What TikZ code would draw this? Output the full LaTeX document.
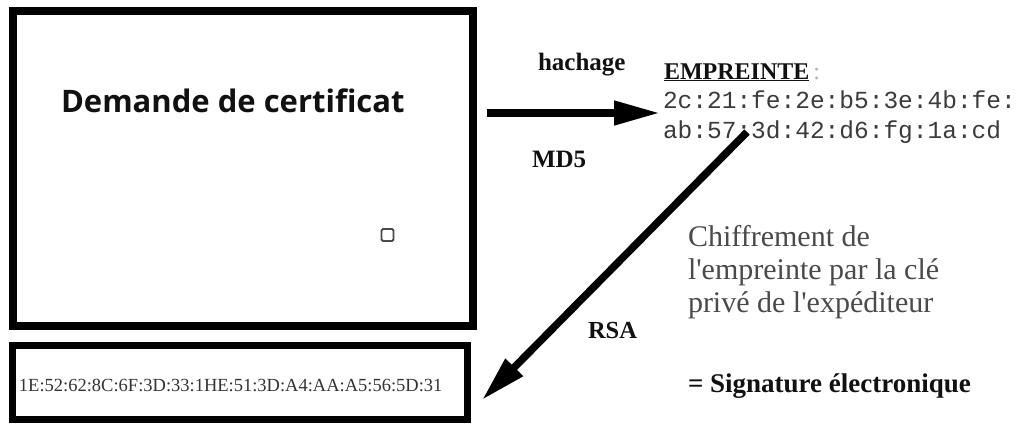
\documentclass[tikz,border=0pt]{standalone}
\usepackage{fontspec}
\setmainfont{Liberation Serif}
\newfontfamily\osans{Open Sans}
\newfontfamily\cour{Liberation Mono}
\usetikzlibrary{arrows.meta}
\definecolor{ink}{HTML}{111111}
\definecolor{grayink}{HTML}{4A4A4A}
\tikzset{
  frame/.style={draw=black, line width=8pt},
  lbl/.style={anchor=base west, inner sep=0pt, outer sep=0pt, text=ink},
  bigarrow/.style={draw=black, line width=7.5pt, -{Triangle[length=46pt,width=23pt]}},
}
\begin{document}
\begin{tikzpicture}[x=1pt,y=-1pt]
\useasboundingbox (0,0) rectangle (1020,423);
\fill[white] (0,0) rectangle (1020,423);
% boxes
\draw[frame] (13,11) rectangle (473,326);
\draw[frame, line width=7pt] (12,345) rectangle (467,419);
\node[draw=grayink, line width=1.8pt, rounded corners=1.5pt, minimum size=12pt, inner sep=0pt] (sq) at (387.5,235) {};
% texts
\node[lbl, font=\osans\bfseries\fontsize{31pt}{36pt}\selectfont] (dem) at (61,112) {Demande de certificat};
\node[lbl, font=\bfseries\fontsize{25pt}{30pt}\selectfont] (hach) at (538,70) {hachage};
\node[lbl, font=\bfseries\fontsize{25pt}{30pt}\selectfont] (md5) at (532,167) {MD5};
\node[lbl, font=\bfseries\fontsize{24.5pt}{30pt}\selectfont] (rsa) at (588,338) {RSA};
\node[lbl, font=\fontsize{24pt}{30pt}\selectfont] (emp) at (664,79) {\textbf{\underline{EMPREINTE}}\,\textcolor{gray!60}{:}};
\node[lbl, font=\cour\fontsize{24.5pt}{30pt}\selectfont, text=grayink!80!black] (h1) at (663,108) {2c:21:fe:2e:b5:3e:4b:fe:};
\node[lbl, font=\cour\fontsize{24.5pt}{30pt}\selectfont, text=grayink!80!black] (h2) at (663,138) {ab:57:3d:42:d6:fg:1a:cd};
\node[lbl, font=\fontsize{30pt}{33pt}\selectfont, text=grayink] (c1) at (688,246) {Chiffrement de};
\node[lbl, font=\fontsize{30pt}{33pt}\selectfont, text=grayink] (c2) at (688,279) {l\textquotesingle empreinte par la clé};
\node[lbl, font=\fontsize{30pt}{33pt}\selectfont, text=grayink] (c3) at (688,312) {privé de l\textquotesingle expéditeur};
\node[lbl, font=\bfseries\fontsize{27pt}{30pt}\selectfont] (sig) at (688,392) {= Signature électronique};
\node[lbl, font=\fontsize{18.5pt}{22pt}\selectfont, text=grayink!70!black] (sigv) at (19,391) {1E:52:62:8C:6F:3D:33:1HE:51:3D:A4:AA:A5:56:5D:31};
% arrows
\coordinate (a1s) at (487,113);
\coordinate (a1e) at (660,113);
\coordinate (a2s) at (747,132);
\coordinate (a2e) at (482,400);
\draw[bigarrow] (a1s) -- (a1e);
\draw[bigarrow] (a2s) -- (a2e);
\end{tikzpicture}
\end{document}
